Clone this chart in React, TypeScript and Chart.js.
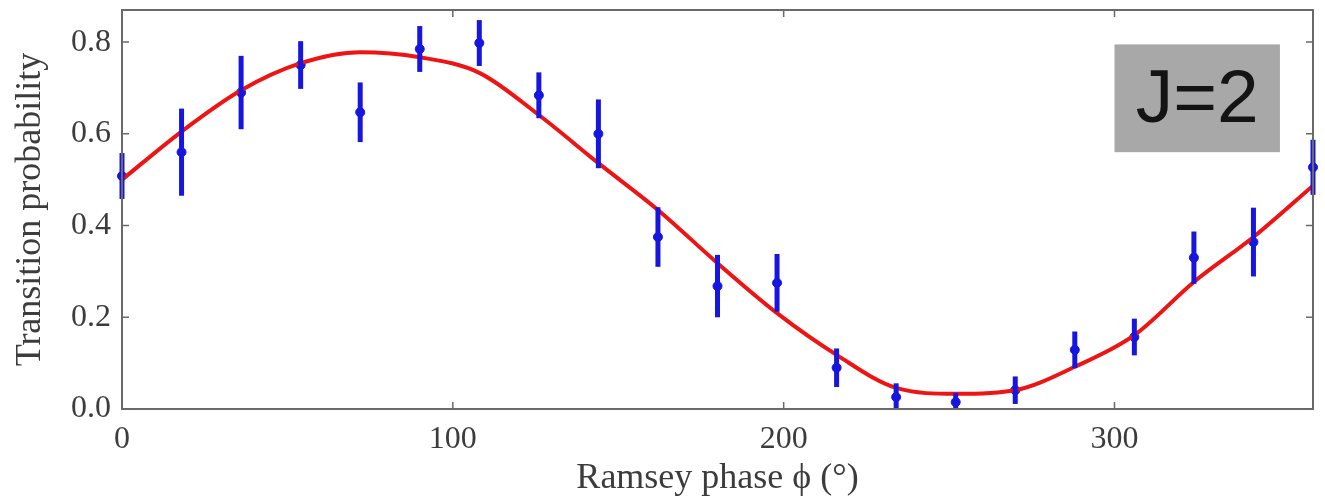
import React, { useEffect, useRef } from "react";
import { Chart, registerables } from "chart.js";

Chart.register(...registerables);

// Measured points (Ramsey phase in degrees)
const phaseDeg = [0, 18, 36, 54, 72, 90, 108, 126, 144, 162, 180, 198, 216, 234, 252, 270, 288, 306, 324, 342, 360];
const transitionProb = [0.508, 0.56, 0.69, 0.75, 0.647, 0.785, 0.798, 0.684, 0.6, 0.375, 0.268, 0.275, 0.09, 0.026, 0.015, 0.041, 0.129, 0.157, 0.33, 0.364, 0.527];
const probError = [0.05, 0.095, 0.08, 0.052, 0.065, 0.05, 0.05, 0.05, 0.075, 0.065, 0.068, 0.063, 0.042, 0.03, 0.02, 0.03, 0.04, 0.04, 0.057, 0.075, 0.06];

// Fitted curve
const fitPhase = [0, 18, 36, 54, 72, 90, 108, 126, 144, 162, 180, 198, 216, 234, 252, 270, 288, 306, 324, 342, 360];
const fitProb = [0.5, 0.605, 0.695, 0.754, 0.778, 0.767, 0.733, 0.641, 0.536, 0.434, 0.318, 0.209, 0.118, 0.046, 0.033, 0.041, 0.092, 0.161, 0.277, 0.375, 0.487];

// Axis ticks
const xTickValues = [0, 100, 200, 300];
const yTickValues = [0, 0.2, 0.4, 0.6, 0.8];

// Annotation
const labelText = "J=2";
const labelBox = { x0: 300, x1: 350, y0: 0.56, y1: 0.795 };

const SERIF = "'Liberation Serif', 'Times New Roman', serif";
const TEXT = "#3c3c3c";
const FRAME = "#6a6a6a";
const BLUE = "#1616e0";
const RED = "#ee1414";

const decorPlugin = {
  id: "decor",
  afterDatasetsDraw(chart: any) {
    const { ctx, chartArea } = chart;
    const xs = chart.scales.x;
    const ys = chart.scales.y;
    ctx.save();
    // error bars
    ctx.strokeStyle = BLUE;
    ctx.lineWidth = 5;
    ctx.lineCap = "butt";
    for (let i = 0; i < phaseDeg.length; i++) {
      const px = xs.getPixelForValue(phaseDeg[i]);
      const top = ys.getPixelForValue(transitionProb[i] + probError[i]);
      const bot = Math.min(ys.getPixelForValue(transitionProb[i] - probError[i]), chartArea.bottom);
      ctx.beginPath();
      ctx.moveTo(px, top);
      ctx.lineTo(px, bot);
      ctx.stroke();
    }
    // frame
    ctx.strokeStyle = FRAME;
    ctx.lineWidth = 2;
    ctx.strokeRect(chartArea.left, chartArea.top, chartArea.right - chartArea.left, chartArea.bottom - chartArea.top);
    // inward ticks
    ctx.lineWidth = 1.5;
    const tl = 7;
    ctx.beginPath();
    for (const v of xTickValues) {
      const px = xs.getPixelForValue(v);
      ctx.moveTo(px, chartArea.bottom);
      ctx.lineTo(px, chartArea.bottom - tl);
      ctx.moveTo(px, chartArea.top);
      ctx.lineTo(px, chartArea.top + tl);
    }
    for (const v of yTickValues) {
      const py = ys.getPixelForValue(v);
      ctx.moveTo(chartArea.left, py);
      ctx.lineTo(chartArea.left + tl, py);
      ctx.moveTo(chartArea.right, py);
      ctx.lineTo(chartArea.right - tl, py);
    }
    ctx.stroke();
    // J=2 box
    const bx0 = xs.getPixelForValue(labelBox.x0);
    const bx1 = xs.getPixelForValue(labelBox.x1);
    const by0 = ys.getPixelForValue(labelBox.y1);
    const by1 = ys.getPixelForValue(labelBox.y0);
    ctx.fillStyle = "#a8a8a8";
    ctx.fillRect(bx0, by0, bx1 - bx0, by1 - by0);
    ctx.fillStyle = "#141414";
    ctx.font = "75px 'Liberation Sans', Arial, sans-serif";
    ctx.textAlign = "center";
    ctx.textBaseline = "middle";
    ctx.fillText(labelText, (bx0 + bx1) / 2, (by0 + by1) / 2 + 3);
    ctx.restore();
  },
};

export default function App() {
  const canvasRef = useRef<HTMLCanvasElement | null>(null);

  useEffect(() => {
    const canvas = canvasRef.current;
    if (!canvas) return;
    const chart = new Chart(canvas, {
      type: "scatter",
      data: {
        datasets: [
          {
            type: "line",
            label: "fit",
            data: fitPhase.map((x, i) => ({ x, y: fitProb[i] })),
            borderColor: RED,
            borderWidth: 4,
            pointRadius: 0,
            cubicInterpolationMode: "monotone",
            fill: false,
          } as any,
          {
            type: "scatter",
            label: "data",
            data: phaseDeg.map((x, i) => ({ x, y: transitionProb[i] })),
            backgroundColor: BLUE,
            borderColor: BLUE,
            pointRadius: 4.5,
            pointStyle: "circle",
            clip: false,
          } as any,
        ],
      },
      options: {
        animation: false,
        responsive: false,
        maintainAspectRatio: false,
        layout: { padding: { top: 10, right: 12, left: 0, bottom: 0 } },
        plugins: {
          legend: { display: false },
          tooltip: { enabled: false },
        },
        scales: {
          x: {
            type: "linear",
            min: 0,
            max: 360,
            afterBuildTicks: (s: any) => {
              s.ticks = xTickValues.map((v) => ({ value: v }));
            },
            afterFit: (s: any) => {
              s.height = 91;
              s.paddingLeft = 0;
              s.paddingRight = 0;
            },
            grid: { display: false, drawTicks: false },
            border: { display: false },
            ticks: {
              font: { family: SERIF, size: 32 },
              color: TEXT,
              padding: 11,
              maxRotation: 0,
              callback: (v: any) => String(v),
            },
            title: {
              display: true,
              text: "Ramsey phase \u03D5 (\u00B0)",
              font: { family: SERIF, size: 36 },
              color: TEXT,
              padding: { top: 0, bottom: 0 },
            },
          },
          y: {
            type: "linear",
            min: 0,
            max: 0.87,
            afterBuildTicks: (s: any) => {
              s.ticks = yTickValues.map((v) => ({ value: v }));
            },
            afterFit: (s: any) => {
              s.width = 122;
              s.paddingTop = 0;
              s.paddingBottom = 0;
            },
            grid: { display: false, drawTicks: false },
            border: { display: false },
            ticks: {
              font: { family: SERIF, size: 32 },
              color: TEXT,
              padding: 11,
              callback: (v: any) => Number(v).toFixed(1),
            },
            title: {
              display: true,
              text: "Transition probability",
              font: { family: SERIF, size: 36 },
              color: TEXT,
              padding: { top: 9, bottom: 0 },
            },
          },
        },
      },
      plugins: [decorPlugin],
    });
    return () => chart.destroy();
  }, []);

  return (
    <div style={{ position: "absolute", left: 0, top: 0, width: 1325, height: 500, background: "#fff" }}>
      <canvas ref={canvasRef} width={1325} height={500} style={{ width: 1325, height: 500, display: "block" }} />
    </div>
  );
}
